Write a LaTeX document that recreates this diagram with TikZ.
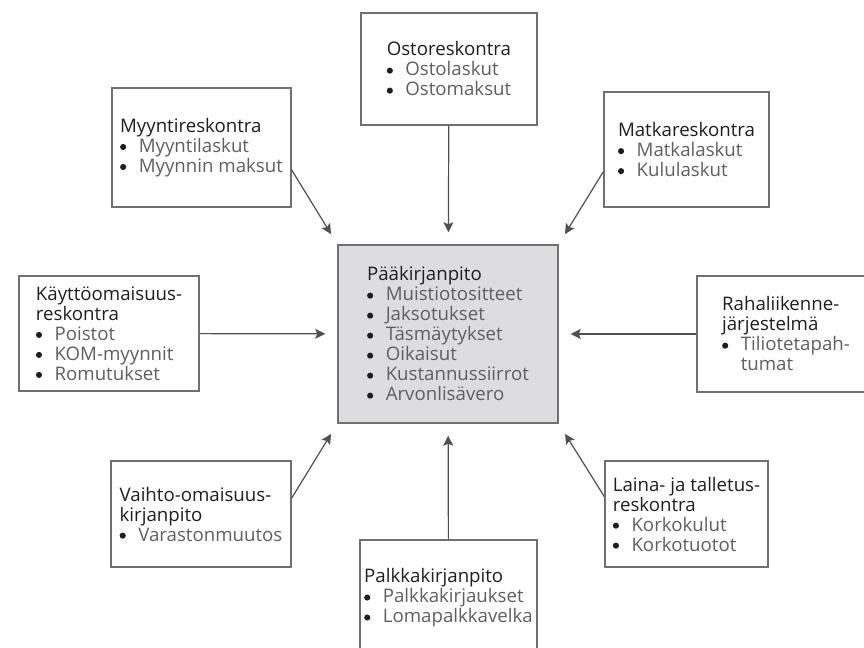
\documentclass[tikz,border=0pt]{standalone}
\usepackage{fontspec}
\setmainfont{Open Sans}
\usetikzlibrary{arrows.meta}

\definecolor{boxline}{RGB}{112,112,112}
\definecolor{arrline}{RGB}{80,80,80}
\definecolor{ink}{RGB}{30,30,30}
\definecolor{itemgray}{RGB}{95,95,95}
\definecolor{mainfill}{RGB}{221,221,223}

% bullet item inside a box
\newcommand{\li}[1]{\makebox[14pt][l]{\tikz[x=1pt, y=1pt, baseline={(0pt,-4pt)}]\fill[ink] (0,0) circle (2.3pt);}\textcolor{itemgray}{#1}}

\begin{document}
\begin{tikzpicture}[
  x=0.75pt, y=-0.75pt,
  box/.style={draw=boxline, line width=1.1pt, fill=white, align=left,
    inner sep=0pt, text=ink, font=\fontsize{14}{15}\selectfont},
  arr/.style={-{Stealth[length=7.5pt, width=7.5pt, inset=1.5pt]},
    draw=arrline, line width=0.9pt, shorten >=9pt}
]
  \useasboundingbox (0,0) rectangle (864,648);
  \clip (0,0) rectangle (864,648);

  % centre box
  \node[box, fill=mainfill, minimum width=165pt, minimum height=133.5pt] (paa) at (448,334)
    {Pääkirjanpito\\ \li{Muistiotositteet}\\ \li{Jaksotukset}\\ \li{Täsmäytykset}\\
     \li{Oikaisut}\\ \li{Kustannussiirrot}\\ \li{Arvonlisävero}};

  % surrounding ledgers
  \node[box, minimum width=132pt, minimum height=84pt] (osto) at (449,69)
    {Ostoreskontra\\ \li{Ostolaskut}\\ \li{Ostomaksut}};
  \node[box, minimum width=134.25pt, minimum height=89.25pt] (myynti) at (201.5,147.5)
    {Myyntireskontra\\ \li{Myyntilaskut}\\ \li{Myynnin maksut}};
  \node[box, minimum width=123.75pt, minimum height=86.25pt] (matka) at (686.5,149.5)
    {Matkareskontra\\ \li{Matkalaskut}\\ \li{Kululaskut}};
  \node[box, minimum width=135pt, minimum height=86.25pt] (kaytto) at (109,333.5)
    {Käyttöomaisuus-\\reskontra\\ \li{Poistot}\\ \li{KOM-myynnit}\\ \li{Romutukset}};
  \node[box, minimum width=133.5pt, minimum height=87pt] (raha) at (786,334)
    {Rahaliikenne-\\järjestelmä\\ \li{Tiliotetapah-}\\ \hspace*{14pt}\textcolor{itemgray}{tumat}};
  \node[box, minimum width=135pt, minimum height=79.5pt] (vaihto) at (201,514)
    {Vaihto-omaisuus-\\kirjanpito\\ \li{Varastonmuutos}};
  \node[box, minimum width=122.25pt, minimum height=79.5pt] (laina) at (686.5,514)
    {Laina- ja talletus-\\reskontra\\ \li{Korkokulut}\\ \li{Korkotuotot}};
  \node[box, minimum width=132.75pt, minimum height=87pt] (palkka) at (448.5,598)
    {Palkkakirjanpito\\ \li{Palkkakirjaukset}\\ \li{Lomapalkkavelka}};

  % flows into the general ledger
  \draw[arr] (osto) -- (paa);
  \draw[arr] (myynti.-14) -- (paa.north west);
  \draw[arr] (matka.195) -- (paa.north east);
  \draw[arr] (kaytto) -- (paa);
  \draw[arr] (raha) -- (paa);
  \draw[arr] (vaihto.10) -- (paa.south west);
  \draw[arr] (laina.168) -- (paa.south east);
  \draw[arr] (palkka) -- (paa);
\end{tikzpicture}
\end{document}
